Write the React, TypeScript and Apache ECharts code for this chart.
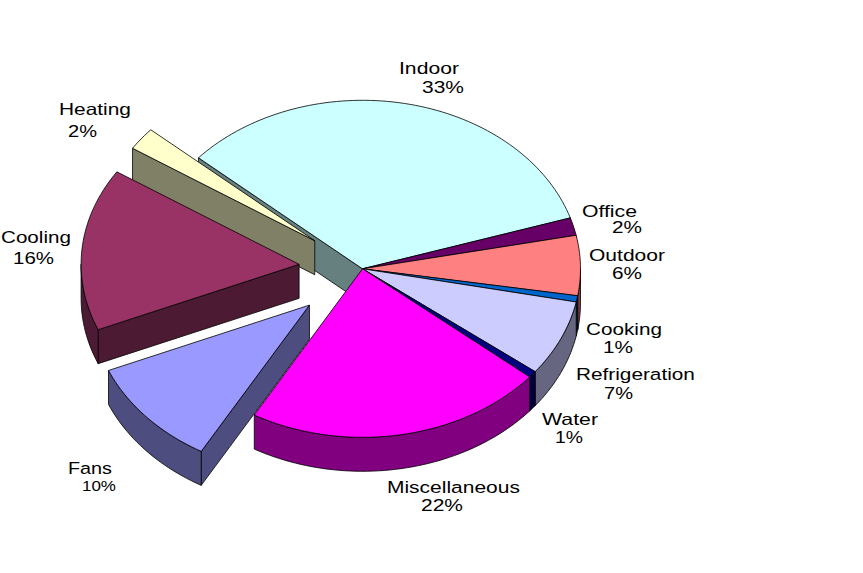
import React, { useEffect, useRef } from "react";
import * as echarts from "echarts";

const categories = ["Indoor", "Office", "Outdoor", "Cooking", "Refrigeration", "Water", "Miscellaneous", "Fans", "Cooling", "Heating"];
const shares = [33.7, 1.7, 5.75, 0.6, 7.3, 0.64, 22.2, 10.4, 15.6, 2.2];
const percentLabels = ["33%", "2%", "6%", "1%", "7%", "1%", "22%", "10%", "16%", "2%"];
const explodeRatios = [0, 0, 0, 0, 0, 0, 0, 0.325, 0.292, 0.275];
const topColors = ["#CCFFFF", "#660066", "#FF8080", "#0066CC", "#CCCCFF", "#000080", "#FF00FF", "#9999FF", "#993366", "#FFFFCC"];

// Label layout: [name x, name y, percent x, percent y, name width, percent width]
const labelLayout: number[][] = [
  [399, 68, 422, 87, 60, 42],
  [582, 211, 612, 227, 55, 30],
  [589, 255, 612, 273, 76, 30],
  [586, 329, 603, 347, 76, 30],
  [576, 374, 604, 393, 119, 29],
  [542, 419, 555, 437, 56, 28],
  [387, 487, 421, 505, 133, 42],
  [68, 469, 82, 486, 44, 34],
  [1, 237, 13, 258, 70, 41],
  [59, 109, 68, 131, 72, 29],
];

const CX = 362.5;
const CY = 268.8;
const RX = 218;
const RY = 168.5;
const DEPTH = 34;
const START_ANGLE = -48.8;

const FONT_FAMILY = '"Liberation Sans", Arial, sans-serif';

const total = shares.reduce((a, b) => a + b, 0);
const startAngles: number[] = [];
shares.reduce((acc, v, i) => {
  startAngles[i] = acc;
  return acc + (v / total) * 360;
}, START_ANGLE);

const rad = (d: number) => (d * Math.PI) / 180;
const norm = (d: number) => ((d % 360) + 360) % 360;

function shade(hex: string): string {
  const n = parseInt(hex.slice(1), 16);
  const r = Math.round(((n >> 16) & 255) / 2);
  const g = Math.round(((n >> 8) & 255) / 2);
  const b = Math.round((n & 255) / 2);
  return `rgb(${r},${g},${b})`;
}

function sliceGeometry(i: number) {
  const a0 = startAngles[i];
  const span = (shares[i] / total) * 360;
  const a1 = a0 + span;
  const mid = a0 + span / 2;
  const e = explodeRatios[i];
  const tx = CX + e * RX * Math.sin(rad(mid));
  const ty = CY - e * RY * Math.cos(rad(mid));
  const rim = (a: number): [number, number] => [tx + RX * Math.sin(rad(a)), ty - RY * Math.cos(rad(a))];
  return { a0, a1, mid, tx, ty, rim };
}

function arcPoints(rim: (a: number) => [number, number], a: number, b: number): [number, number][] {
  const n = Math.max(2, Math.ceil((b - a) / 1.5));
  const pts: [number, number][] = [];
  for (let k = 0; k <= n; k++) pts.push(rim(a + ((b - a) * k) / n));
  return pts;
}

const renderSlice = (_params: any, api: any) => {
  const i = api.value(1) as number;
  const { a0, a1, tx, ty, rim } = sliceGeometry(i);
  const top = topColors[i];
  const side = shade(top);
  const line = { stroke: "#000", lineWidth: 0.8, lineJoin: "round" };
  const wall = { ...line, fill: side };
  const children: any[] = [];

  const edgeWall = (a: number) => {
    const p = rim(a);
    children.push({
      type: "polygon",
      shape: { points: [[tx, ty], p, [p[0], p[1] + DEPTH], [tx, ty + DEPTH]] },
      style: wall,
    });
  };
  const s = norm(a0);
  const e = norm(a1);
  if (s > 180 && s < 360) edgeWall(a0);
  if (e > 0 && e < 180) edgeWall(a1);

  // outer rim wall: only the part on the near half of the ellipse
  const offset = a0 - s;
  const lo = Math.max(s, 90);
  const hi = Math.min(s + (a1 - a0), 270);
  if (hi > lo) {
    const upper = arcPoints(rim, lo + offset, hi + offset);
    const lower = upper.map(([x, y]) => [x, y + DEPTH]).reverse();
    children.push({ type: "polygon", shape: { points: [...upper, ...lower] }, style: wall });
  }

  children.push({
    type: "polygon",
    shape: { points: [[tx, ty], ...arcPoints(rim, a0, a1)] },
    style: { ...line, fill: top },
  });
  return { type: "group", children };
};

function measure(text: string, fontSize: number): number {
  const ctx = document.createElement("canvas").getContext("2d")!;
  ctx.font = `${fontSize}px ${FONT_FAMILY}`;
  return ctx.measureText(text).width;
}

function textEl(text: string, x: number, y: number, width: number, fontSize: number) {
  return {
    type: "text",
    x,
    y,
    scaleX: width / measure(text, fontSize),
    silent: true,
    style: { text, fill: "#000", font: `${fontSize}px ${FONT_FAMILY}`, textAlign: "left", textVerticalAlign: "middle" },
  };
}

export default function App() {
  const ref = useRef<HTMLDivElement>(null);
  useEffect(() => {
    const chart = echarts.init(ref.current!, undefined, { renderer: "svg" });
    // back-to-front painting order: far slices first
    const order = categories
      .map((_, i) => i)
      .sort((p, q) => Math.cos(rad(sliceGeometry(q).mid)) - Math.cos(rad(sliceGeometry(p).mid)));
    const labels: any[] = [];
    categories.forEach((name, i) => {
      const [nx, ny, px, py, nw, pw] = labelLayout[i];
      const small = name === "Fans";
      labels.push(textEl(name, nx, ny, nw, 16.5));
      labels.push(textEl(percentLabels[i], px, py, pw, small ? 14 : 16.5));
    });
    chart.setOption({
      animation: false,
      backgroundColor: "#fff",
      graphic: { elements: labels },
      series: [
        {
          type: "custom",
          coordinateSystem: "none",
          silent: true,
          renderItem: renderSlice,
          data: order.map((i) => [shares[i], i]),
        },
      ],
    });
    return () => chart.dispose();
  }, []);
  return <div ref={ref} style={{ position: "fixed", left: 0, top: 0, width: 863, height: 573 }} />;
}
